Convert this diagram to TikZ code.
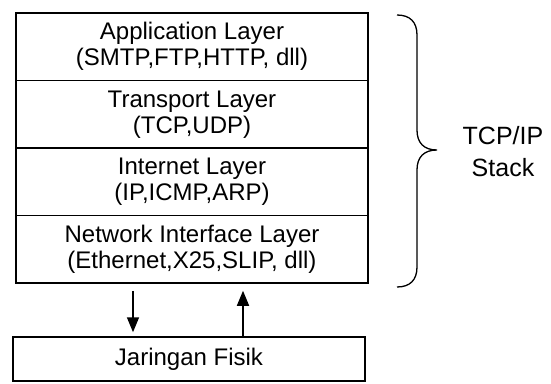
\documentclass[tikz,border=0pt]{standalone}
\usepackage{fontspec}
\setmainfont{Liberation Sans}
\usetikzlibrary{arrows.meta}
\begin{document}
\begin{tikzpicture}[x=1pt,y=-1pt]
\tikzset{
 layer/.style={draw, line width=1.5pt, minimum width=352pt, minimum height=67.5pt, inner sep=0pt, align=center, font=\fontsize{24}{26}\selectfont},
 arr/.style={line width=1.6pt, -{Triangle[length=15pt,width=12pt]}},
 bracestyle/.style={line width=1.3pt},
}
\useasboundingbox (0,0) rectangle (551,383);
\node[layer] (app) at (192,46.75) {Application Layer\\(SMTP,FTP,HTTP, dll)};
\node[layer] (tra) at (192,114.25) {Transport Layer\\(TCP,UDP)};
\node[layer] (int) at (192,181.75) {Internet Layer\\(IP,ICMP,ARP)};
\node[layer] (net) at (192,249.25) {Network Interface Layer\\(Ethernet,X25,SLIP, dll)};
\node[layer, minimum height=44pt] (jar) at (189,359) {Jaringan Fisik};
\coordinate (dn) at (133,0);
\coordinate (up) at (243,0);
\draw[arr] ([yshift=-7pt]net.south -| dn) -- ([yshift=4pt]jar.north -| dn);
\draw[arr] (jar.north -| up) -- ([yshift=-7pt]net.south -| up);
\draw[bracestyle] (397,15) .. controls (410,15) and (417,22) .. (417,35) -- (417,130) .. controls (417,143) and (424,150) .. (437,150) .. controls (424,150) and (417,157) .. (417,170) -- (417,267) .. controls (417,280) and (410,287) .. (397,287);
\node[font=\fontsize{25}{32}\selectfont, align=center] (lbl) at (503,152) {TCP/IP\\Stack};
\end{tikzpicture}
\end{document}
